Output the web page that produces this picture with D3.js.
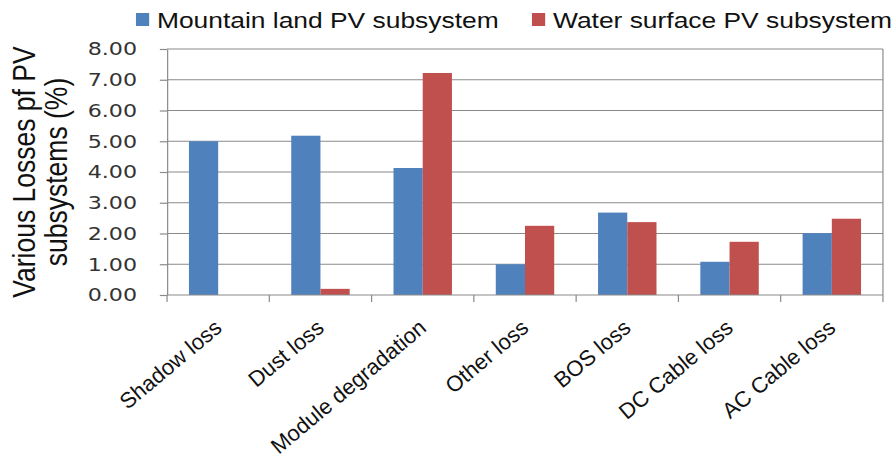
<!DOCTYPE html>
<html>
<head>
<meta charset="utf-8">
<script src="https://cdn.jsdelivr.net/npm/d3@7"></script>
<style>
  html, body { margin: 0; padding: 0; background: #ffffff; }
  svg { display: block; }
</style>
</head>
<body>
<div id="chart"></div>
<script>
// Loss categories and the two subsystem series (%)
const categories = ["Shadow loss", "Dust loss", "Module degradation", "Other loss", "BOS loss", "DC Cable loss", "AC Cable loss"];
const seriesNames = ["Mountain land PV subsystem", "Water surface PV subsystem"];
const mountainValues = [5.00, 5.18, 4.13, 1.00, 2.68, 1.08, 2.01];
const waterValues = [0.00, 0.20, 7.22, 2.25, 2.37, 1.73, 2.48];
const yTickValues = [0, 1, 2, 3, 4, 5, 6, 7, 8];
const yTitleLines = ["Various Losses pf PV", "subsystems (%)"];

const colors = ["#4F81BD", "#C0504D"];
const gridColor = "#8a8a8a";

const WIDTH = 895, HEIGHT = 461;
const SX = 1.2;                      // horizontal stretch of the plot drawing
const W = WIDTH / SX;                // logical width before stretch

const margin = { left: 139.2, right: W - 735.8, top: 49, bottom: HEIGHT - 295 };

const svg = d3.select("#chart").append("svg")
  .attr("width", WIDTH).attr("height", HEIGHT);

const g = svg.append("g").attr("transform", `scale(${SX},1)`);

const x = d3.scaleBand()
  .domain(categories)
  .range([margin.left, W - margin.right])
  .paddingInner(0).paddingOuter(0);

// two bars per category, gap of 150% of a bar width
const xs = d3.scaleBand()
  .domain(seriesNames)
  .range([0, x.bandwidth()])
  .paddingInner(0).paddingOuter(0.75);

const y = d3.scaleLinear()
  .domain([0, 8])
  .range([HEIGHT - margin.bottom, margin.top]);

// horizontal gridlines
g.append("g").selectAll("line")
  .data(yTickValues.filter(v => v > 0))
  .join("line")
  .attr("x1", margin.left).attr("x2", W - margin.right)
  .attr("y1", d => y(d)).attr("y2", d => y(d))
  .attr("stroke", gridColor).attr("stroke-width", 1.2)
  .attr("vector-effect", "non-scaling-stroke");

// right border of the plot area
g.append("line")
  .attr("x1", W - margin.right).attr("x2", W - margin.right)
  .attr("y1", y(8)).attr("y2", y(0))
  .attr("stroke", gridColor).attr("stroke-width", 1.2)
  .attr("vector-effect", "non-scaling-stroke");

// bars
const data = categories.map((c, i) => ({ cat: c, values: [mountainValues[i], waterValues[i]] }));
const groups = g.append("g").selectAll("g")
  .data(data)
  .join("g")
  .attr("transform", d => `translate(${x(d.cat)},0)`);

groups.selectAll("rect")
  .data(d => d.values.map((v, k) => ({ name: seriesNames[k], value: v, k })))
  .join("rect")
  .attr("x", d => xs(d.name))
  .attr("width", xs.bandwidth())
  .attr("y", d => y(d.value))
  .attr("height", d => y(0) - y(d.value))
  .attr("fill", d => colors[d.k]);

// y axis
const yAxis = g.append("g")
  .attr("transform", `translate(${margin.left},0)`)
  .call(d3.axisLeft(y).tickValues(yTickValues).tickFormat(d3.format(".2f"))
    .tickSize(6).tickSizeOuter(0).tickPadding(19));
yAxis.select(".domain").attr("stroke", gridColor).attr("stroke-width", 1.2)
  .attr("vector-effect", "non-scaling-stroke");
yAxis.selectAll(".tick line").attr("stroke", gridColor).attr("stroke-width", 1.2);
yAxis.selectAll(".tick text")
  .attr("font-family", "DejaVu Sans").attr("font-size", 18.5).attr("fill", "#333");

// x axis baseline with tick marks at category boundaries
const boundaries = categories.map(c => x(c)).concat([x.range()[1]]);
g.append("line")
  .attr("x1", margin.left).attr("x2", W - margin.right)
  .attr("y1", y(0)).attr("y2", y(0))
  .attr("stroke", gridColor).attr("stroke-width", 1.2);
g.append("g").selectAll("line")
  .data(boundaries)
  .join("line")
  .attr("x1", d => d).attr("x2", d => d)
  .attr("y1", y(0)).attr("y2", y(0) + 7)
  .attr("stroke", gridColor).attr("stroke-width", 1.2)
  .attr("vector-effect", "non-scaling-stroke");

// rotated category labels, drawn unstretched
svg.append("g").selectAll("text")
  .data(categories)
  .join("text")
  .attr("transform", d => `translate(${SX * (x(d) + x.bandwidth() / 2) + 5},${y(0) + 35}) rotate(-40)`)
  .attr("text-anchor", "end")
  .attr("font-family", "Liberation Sans, Arial, sans-serif")
  .attr("font-size", 22)
  .attr("fill", "#111")
  .text(d => d);

// y axis title (two lines)
const yTitle = g.append("text")
  .attr("transform", `translate(0,${(y(0) + y(8)) / 2}) rotate(-90)`)
  .attr("text-anchor", "middle")
  .attr("font-family", "Liberation Sans, Arial, sans-serif")
  .attr("font-size", 26.5)
  .attr("fill", "#111");
yTitle.selectAll("tspan")
  .data(yTitleLines)
  .join("tspan")
  .attr("x", 0)
  .attr("y", (d, i) => 29 + i * 26.5)
  .text(d => d);

// legend
const legendX = [113.3, 443.3];
const legend = g.append("g").selectAll("g")
  .data(seriesNames)
  .join("g")
  .attr("transform", (d, i) => `translate(${legendX[i]},0)`);
legend.append("rect")
  .attr("x", 0).attr("y", 13).attr("width", 11).attr("height", 13)
  .attr("fill", (d, i) => colors[i]);
legend.append("text")
  .attr("x", 17.5).attr("y", 28)
  .attr("font-family", "Liberation Sans, Arial, sans-serif")
  .attr("font-size", 22)
  .attr("fill", "#111")
  .text(d => d);
</script>
</body>
</html>
